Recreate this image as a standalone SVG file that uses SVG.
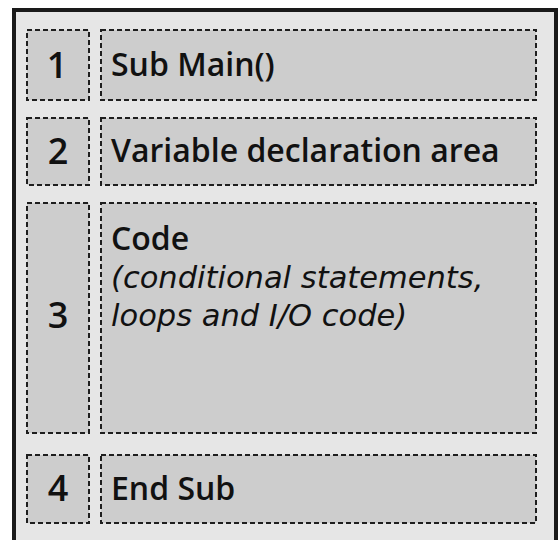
<svg xmlns="http://www.w3.org/2000/svg" width="558" height="540" viewBox="0 0 558 540">
<style>
.box{fill:#cdcdcd;stroke:#1e1e1e;stroke-width:2;stroke-dasharray:5 3}
.t{font-family:"Open Sans","Liberation Sans",sans-serif;font-size:32px;font-weight:600;fill:#111}
.n{font-family:"Open Sans","Liberation Sans",sans-serif;font-size:36px;font-weight:600;fill:#111;text-anchor:middle}
.i{font-family:"DejaVu Sans","Liberation Sans",sans-serif;font-size:30.5px;font-style:italic;fill:#111}
</style>
<rect x="0" y="0" width="558" height="540" fill="#ffffff"/>
<rect x="14" y="10" width="542" height="540" fill="#e6e6e6" stroke="#1a1a1a" stroke-width="4"/>
<g id="row1">
<rect class="box" x="27" y="30" width="62" height="70"/>
<text class="n" x="57" y="78">1</text>
<rect class="box" x="101" y="30" width="435" height="70"/>
<text class="t" x="111" y="76">Sub Main()</text>
</g>
<g id="row2">
<rect class="box" x="27" y="118" width="62" height="67"/>
<text class="n" x="58" y="164">2</text>
<rect class="box" x="101" y="118" width="435" height="67"/>
<text class="t" x="111" y="162">Variable declaration area</text>
</g>
<g id="row3">
<rect class="box" x="27" y="203" width="62" height="230"/>
<text class="n" x="58" y="328">3</text>
<rect class="box" x="101" y="203" width="435" height="230"/>
<text class="t" x="111" y="250">Code</text>
<text class="i" x="111" y="288">(conditional statements,</text>
<text class="i" x="111" y="326">loops and I/O code)</text>
</g>
<g id="row4">
<rect class="box" x="27" y="455" width="62" height="68"/>
<text class="n" x="58" y="501">4</text>
<rect class="box" x="101" y="455" width="435" height="68"/>
<text class="t" x="111" y="500">End Sub</text>
</g>
<g id="connectors"/>
</svg>
